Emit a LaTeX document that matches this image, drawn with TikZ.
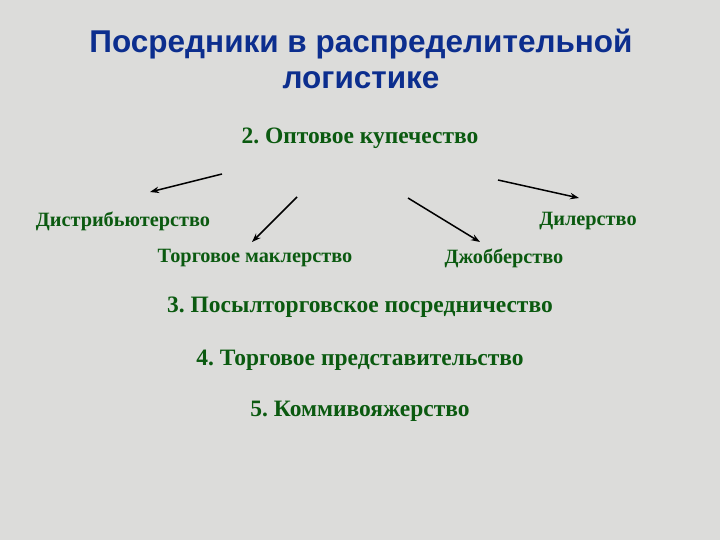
\documentclass[tikz,border=0pt]{standalone}
\usepackage{fontspec}
\setmainfont{Liberation Serif}
\newfontfamily\titlefont{Liberation Sans}
\usetikzlibrary{arrows.meta,positioning}
\definecolor{titleblue}{HTML}{0C2E8E}
\definecolor{textgreen}{HTML}{0B5A10}
\definecolor{bggray}{HTML}{DCDCDA}
\frenchspacing

\begin{document}
\begin{tikzpicture}[x=1pt, y=-1pt,
  title/.style={font=\titlefont\fontsize{31.5}{36}\selectfont\bfseries, text=titleblue, align=center},
  item/.style={font=\fontsize{23.5}{27}\selectfont\bfseries, text=textgreen, inner sep=1pt},
  kind/.style={font=\fontsize{20.3}{24}\selectfont\bfseries, text=textgreen, inner sep=1pt},
  arr/.style={-{Stealth[length=9pt, width=6.5pt]}, black, line width=1.5pt}
]
  % Background
  \fill[bggray] (0,0) rectangle (720,540);
  \useasboundingbox (0,0) rectangle (720,540);
  % Title
  \node[title] (ttl) at (361,59) {Посредники в распределительной\\логистике};
  % Wholesale trade and its kinds
  \node[item] (opt) at (360,138) {2. Оптовое купечество};
  \node[kind] (distr) at (123,221) {Дистрибьютерство};
  \node[kind] (dealer) at (588,221) {Дилерство};
  \node[kind] (broker) at (255,258) {Торговое маклерство};
  \node[kind] (jobber) at (504,258) {Джобберство};
  % Arrows
  \coordinate (a1) at (222,174); \coordinate (b1) at (150,192);
  \coordinate (a2) at (297,197); \coordinate (b2) at (252,242);
  \coordinate (a3) at (408,198); \coordinate (b3) at (480,242);
  \coordinate (a4) at (498,180); \coordinate (b4) at (579,198);
  \draw[arr] (a1) -- (b1);
  \draw[arr] (a2) -- (b2);
  \draw[arr] (a3) -- (b3);
  \draw[arr] (a4) -- (b4);
  % Other intermediaries
  \node[item] (mail) at (360,307) {3. Посылторговское посредничество};
  \node[item] (repr) at (360,360) {4. Торговое представительство};
  \node[item] (travel) at (360,411) {5. Коммивояжерство};
\end{tikzpicture}
\end{document}
